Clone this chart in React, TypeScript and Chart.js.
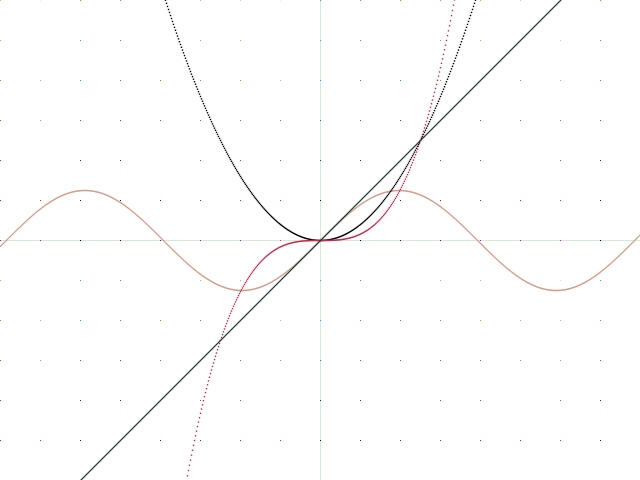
import React, { useEffect, useRef } from 'react';
import { Chart, registerables } from 'chart.js';

Chart.register(...registerables);

// Plotted functions (the chart is a plot of these four curves)
const curveLabels = ['y = x', 'y = x³/4', 'y = x²/2', 'y = sin x'];
const curveColors = ['#1f3b35', '#c8284e', '#000000', '#d49c88'];
const curveFns: ((x: number) => number)[] = [
  (x) => x,
  (x) => (x * x * x) / 4,
  (x) => (x * x) / 2,
  (x) => Math.sin(x),
];

// one sample per pixel column: x from -6.4 to 6.4 in steps of 0.02
const sampleCount = 641;
const sampleStart = -6.4;
const sampleStep = 0.02;

// grid dots: every 0.8 units, rows from y = 4.8 downward, columns from x = -6.4
const gridStep = 0.8;
const gridRowTop = 4.8;
const gridColLeft = -6.4;
const row0 = ['#a8d860', '#eef4c8', '#40e000', '#40d820', null, '#90e060', '#b8e088', '#e8f4b8', '#00c8d8', '#40d820', '#40e000', '#60d830', '#80e040', '#b0e080', null, '#40e000'];
const row1 = ['#a0c040', null, '#00c8d8', '#30d000', null, '#80c840', '#a0c040', null, '#00c8d8', '#00c8d8', null, '#60d020', '#80d040', null, '#f8b898', '#00c8d8'];
const row2 = ['#c09030', '#e89868', '#00b8d0', '#00a0d0', '#60a000', '#b09000', '#c09040', '#e8a070', '#00b0c0', '#00a0d0', '#00a0e0', '#a0a000', '#b0a000', '#d08040', '#f0a080', '#00b0d0'];
const row3 = ['#c06000', '#f08050', '#008890', '#0070b0', '#4060e0', '#a07000', '#c07000', '#e06030', '#008080', '#0080b0', '#0060c0', '#5060f0', '#a06000', '#d06020', '#f06040', '#008890'];
const row4 = ['#c04000', null, '#005060', '#0040a0', null, '#8040f0', '#c04000', '#ff4000', '#005050', '#004080', null, '#6040f0', '#8040f0', null, '#ff4020', '#004050'];
const row5 = ['#c000e0', '#e02000', '#002030', '#200050', '#6000c0', '#a000f0', '#e000e0', '#ff2000', '#002020', '#100040', '#5000a0', '#8000e0', '#a000f0', '#d000f0', '#ff2000', '#002030'];
const row6 = ['#c000c0', '#e000e0', '#000000', '#400040', '#800080', '#c000c0', '#e000e0', '#ff00ff', '#000000', '#000000', '#600060', '#800080', '#c000c0', '#e000e0', '#ff00ff', '#000000'];
const row7 = ['#a0c040', null, '#00c8d8', '#30d000', null, '#90d050', '#a0d060', null, '#00c8d8', '#30d000', null, '#80d040', '#a0d060', null, '#ffd0c0', '#00c8d8'];
const row8 = ['#c09030', '#e89868', '#00b8d0', '#00b8d0', '#60b000', '#60b000', '#c09040', '#e8a070', '#00c0d0', '#00b0d0', '#40b000', '#70b000', '#a0b020', '#d0a060', '#f0a090', '#00c0e0'];
const row9 = ['#c06000', '#f08050', '#008890', '#0070b0', '#4080f0', '#c0a000', '#c07000', '#e08040', '#00a0a0', '#0090c0', '#2080f0', '#808000', '#a07000', '#d08040', '#f08060', '#0090a0'];
const row10 = ['#c04000', null, '#004050', '#0040a0', null, '#8040f0', '#c05000', null, '#004040', '#005080', null, '#6040f0', '#a05000', null, '#ff4040', '#005060'];
const row11 = ['#c000f0', '#ff2000', '#002030', '#102040', '#6000c0', '#8000f0', '#c000f0', '#ff2000', '#002020', '#102060', '#4020c0', '#8020e0', '#b000f0', '#e02000', '#ff2000', '#002040'];
const gridRows = [row0, row1, row2, row3, row4, row5, row6, row7, row8, row9, row10, row11];

const axisColor = '#d4ead4';

export default function App() {
  const canvasRef = useRef<HTMLCanvasElement | null>(null);

  useEffect(() => {
    if (!canvasRef.current) return;

    const xs: number[] = [];
    for (let i = 0; i < sampleCount; i++) xs.push(+(sampleStart + i * sampleStep).toFixed(4));

    const curveSets = curveFns.map((fn, i) => ({
      label: curveLabels[i],
      data: xs.map((x) => ({ x, y: fn(x) })),
      backgroundColor: curveColors[i],
      borderColor: curveColors[i],
      pointStyle: 'rect' as const,
      pointRadius: 1,
      pointBorderWidth: 0,
      showLine: false,
    }));

    const gridData: { x: number; y: number }[] = [];
    const gridColors: string[] = [];
    gridRows.forEach((row, r) => {
      row.forEach((c, k) => {
        if (!c) return;
        gridData.push({ x: +(gridColLeft + k * gridStep).toFixed(4), y: +(gridRowTop - r * gridStep).toFixed(4) });
        gridColors.push(c);
      });
    });

    const chart = new Chart(canvasRef.current, {
      type: 'scatter',
      data: {
        datasets: [
          ...curveSets,
          {
            label: 'grid',
            data: gridData,
            backgroundColor: gridColors,
            pointBackgroundColor: gridColors,
            pointStyle: 'rect',
            pointRadius: 0.7072,
            pointBorderWidth: 0,
            showLine: false,
          } as any,
          {
            label: 'x-axis',
            data: [{ x: -6.41, y: 0 }, { x: 6.39, y: 0 }],
            borderColor: axisColor,
            borderWidth: 1,
            pointRadius: 0,
            showLine: true,
          },
          {
            label: 'y-axis',
            data: [{ x: 0, y: -4.79 }, { x: 0, y: 4.81 }],
            borderColor: axisColor,
            borderWidth: 1,
            pointRadius: 0,
            showLine: true,
          },
        ],
      },
      options: {
        animation: false,
        responsive: true,
        maintainAspectRatio: false,
        events: [],
        layout: { padding: 0, autoPadding: false },
        plugins: { legend: { display: false }, tooltip: { enabled: false } },
        scales: {
          x: { type: 'linear', min: -6.41, max: 6.39, display: false },
          y: { type: 'linear', min: -4.79, max: 4.81, display: false },
        },
      },
    });
    return () => chart.destroy();
  }, []);

  return (
    <div style={{ position: 'fixed', left: 0, top: 0, width: 640, height: 480, background: '#ffffff' }}>
      <canvas ref={canvasRef} />
    </div>
  );
}
